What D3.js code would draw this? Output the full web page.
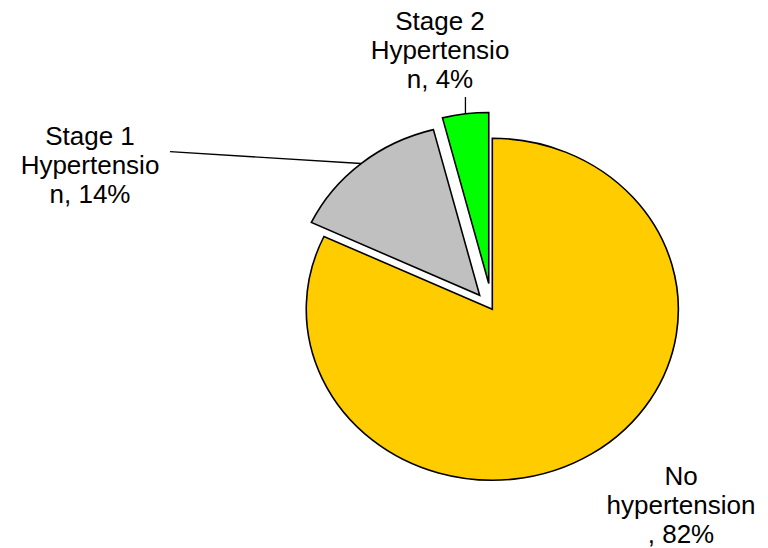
<!DOCTYPE html>
<html>
<head>
<meta charset="utf-8">
<script src="https://cdn.jsdelivr.net/npm/d3@7"></script>
<style>
  html, body { margin: 0; padding: 0; background: #fff; }
  svg { display: block; }
  text { font-family: "Liberation Sans", Arial, sans-serif; font-size: 26px; fill: #000; }
</style>
</head>
<body>
<svg id="chart" width="768" height="548"></svg>
<script>
// Blood pressure categories and their share of the sample (%)
const categories = ["No hypertension", "Stage 1 Hypertension", "Stage 2 Hypertension"];
const values = [82, 14, 4];
const colors = ["#FFCC00", "#C0C0C0", "#00FF00"];
// Wrapped label text for each slice
const labelLines = [
  ["No", "hypertension", ", 82%"],
  ["Stage 1", "Hypertensio", "n, 14%"],
  ["Stage 2", "Hypertensio", "n, 4%"]
];

const W = 768, H = 548;
const cx = 492.3, cy = 309.3;
const radius = 171;
const xStretch = 1.088;          // pie is drawn slightly wider than tall
const explode = [0, 18.2, 26];   // pull-out distance per slice
const labelPos = [               // centre x, first baseline y
  { x: 681, y: 485 },
  { x: 90, y: 145 },
  { x: 440, y: 30 }
];
const lineGap = 29;

const svg = d3.select("#chart");

const pie = d3.pie().sort(null).value(d => d)(values);
const arc = d3.arc().innerRadius(0).outerRadius(radius);

const g = svg.append("g")
  .attr("transform", `translate(${cx},${cy}) scale(${xStretch},1)`);

// map from unscaled pie coordinates to page coordinates
function toPage(px, py) { return [cx + px * xStretch, cy + py]; }

pie.forEach((d, i) => {
  const mid = (d.startAngle + d.endAngle) / 2;
  const ox = Math.sin(mid) * explode[i];
  const oy = -Math.cos(mid) * explode[i];
  g.append("path")
    .attr("d", arc(d))
    .attr("transform", `translate(${ox},${oy})`)
    .attr("fill", colors[i])
    .attr("stroke", "#000")
    .attr("stroke-width", 1.6)
    .attr("stroke-linejoin", "miter")
    .attr("vector-effect", "non-scaling-stroke");
  d.mid = mid;
  d.offset = [ox, oy];
});

// leader lines from slice rim to label
const rimPoint = (d) => {
  const px = d.offset[0] + Math.sin(d.mid) * radius;
  const py = d.offset[1] - Math.cos(d.mid) * radius;
  return toPage(px, py);
};
{
  const p = rimPoint(pie[1]);
  svg.append("line")
    .attr("x1", p[0]).attr("y1", p[1])
    .attr("x2", 170).attr("y2", 151.7)
    .attr("stroke", "#000").attr("stroke-width", 1.3);
}
{
  const p = rimPoint(pie[2]);
  svg.append("line")
    .attr("x1", p[0]).attr("y1", p[1])
    .attr("x2", p[0]).attr("y2", 97)
    .attr("stroke", "#000").attr("stroke-width", 1.3);
}

// labels
labelLines.forEach((lines, i) => {
  const t = svg.append("text")
    .attr("text-anchor", "middle")
    .attr("x", labelPos[i].x)
    .attr("y", labelPos[i].y);
  lines.forEach((s, j) => {
    t.append("tspan")
      .attr("x", labelPos[i].x)
      .attr("y", labelPos[i].y + j * lineGap)
      .text(s);
  });
});
</script>
</body>
</html>
